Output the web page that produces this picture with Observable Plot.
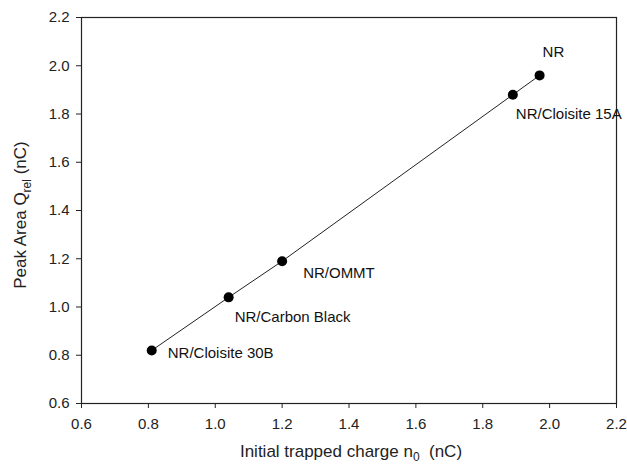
<!DOCTYPE html>
<html>
<head>
<meta charset="utf-8">
<script src="https://cdn.jsdelivr.net/npm/d3@7"></script>
<script src="https://cdn.jsdelivr.net/npm/@observablehq/plot@0.6"></script>
<style>
  html, body { margin: 0; padding: 0; background: #fff; }
  svg { font-family: "Liberation Sans", Arial, sans-serif; }
</style>
</head>
<body>
<div id="chart"></div>
<script>
const samples = ["NR/Cloisite 30B", "NR/Carbon Black", "NR/OMMT", "NR/Cloisite 15A", "NR"];
const trappedCharge = [0.81, 1.04, 1.20, 1.89, 1.97];
const peakArea = [0.82, 1.04, 1.19, 1.88, 1.96];
const tickValues = [0.6, 0.8, 1.0, 1.2, 1.4, 1.6, 1.8, 2.0, 2.2];

const data = samples.map((s, i) => ({name: s, x: trappedCharge[i], y: peakArea[i]}));

// label placement (style)
const labelOffsets = {
  "NR/Cloisite 30B": {dx: 16, dy: 3},
  "NR/Carbon Black": {dx: 6, dy: 20},
  "NR/OMMT": {dx: 21, dy: 12},
  "NR/Cloisite 15A": {dx: 3, dy: 19},
  "NR": {dx: 3, dy: -23}
};

const W = 627, H = 468;
const margin = {left: 81, right: 11, top: 17, bottom: 65};

const labelMarks = samples.map(name => Plot.text(data.filter(d => d.name === name), {
  x: "x", y: "y", text: "name", textAnchor: "start",
  dx: labelOffsets[name].dx, dy: labelOffsets[name].dy,
  fontSize: 15, fill: "#111"
}));

const plot = Plot.plot({
  width: W, height: H,
  marginLeft: margin.left, marginRight: margin.right, marginTop: margin.top, marginBottom: margin.bottom,
  style: {fontFamily: '"Liberation Sans", Arial, sans-serif', fontSize: "15px", color: "#222", background: "#fff"},
  x: {domain: [0.6, 2.2], label: null},
  y: {domain: [0.6, 2.2], label: null},
  marks: [
    Plot.axisX({ticks: tickValues, tickFormat: d3.format(".1f"), tickSize: 5, tickPadding: 10, fontSize: 15, stroke: "#222"}),
    Plot.axisY({ticks: tickValues, tickFormat: d3.format(".1f"), tickSize: 5, tickPadding: 7, fontSize: 15, stroke: "#222"}),
    Plot.frame({stroke: "#222", strokeWidth: 1.2}),
    Plot.line(data, {x: "x", y: "y", stroke: "#222", strokeWidth: 1}),
    Plot.dot(data, {x: "x", y: "y", r: 5, fill: "#000"}),
    ...labelMarks
  ]
});

document.getElementById("chart").appendChild(plot);

// axis titles with subscripts
const svg = d3.select(plot);
const xt = svg.append("text")
  .attr("x", 351).attr("y", 457)
  .attr("text-anchor", "middle")
  .attr("font-size", 17).attr("fill", "#222")
  .style("font-family", '"Liberation Sans", Arial, sans-serif');
xt.append("tspan").text("Initial trapped charge n");
xt.append("tspan").attr("font-size", 12).attr("dy", 4).text("0");
xt.append("tspan").attr("dy", -4).text("\u00a0\u00a0(nC)");

const yt = svg.append("text")
  .attr("transform", "translate(26,215) rotate(-90)")
  .attr("text-anchor", "middle")
  .attr("font-size", 17).attr("fill", "#222")
  .style("font-family", '"Liberation Sans", Arial, sans-serif');
yt.append("tspan").text("Peak Area Q");
yt.append("tspan").attr("font-size", 12).attr("dy", 5).text("rel");
yt.append("tspan").attr("dy", -5).text(" (nC)");
</script>
</body>
</html>
